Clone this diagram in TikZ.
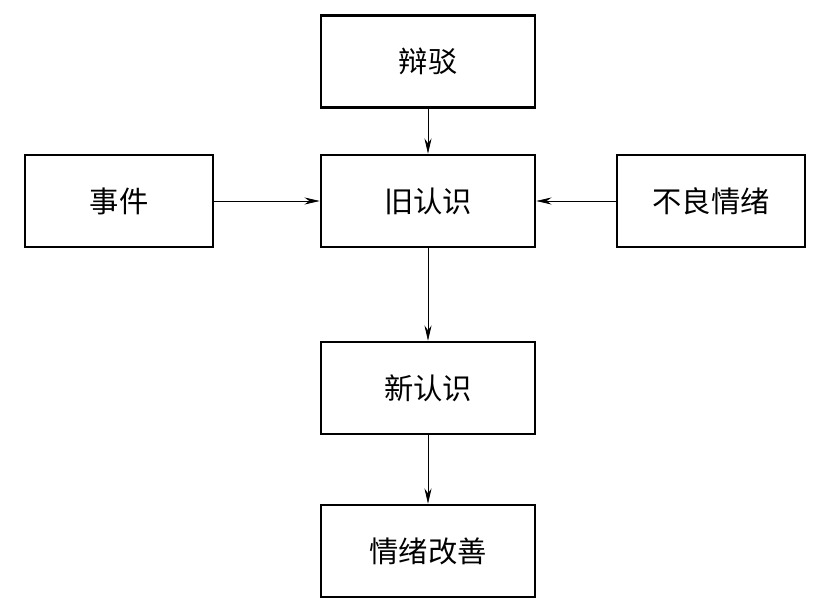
\documentclass[tikz,border=0pt]{standalone}
\usepackage{fontspec}
\setmainfont{Noto Sans CJK SC}
\usetikzlibrary{arrows.meta}

\tikzset{
  stepbox/.style={draw,line width=2.2pt,minimum height=2.76cm,
    inner sep=0pt,font=\fontsize{25}{30}\selectfont},
  midbox/.style={stepbox,minimum width=6.42cm},
  sidebox/.style={stepbox,minimum width=5.64cm},
  flow/.style={line width=0.6pt,-{Stealth[length=13pt,width=6pt]}}
}

\begin{document}
\begin{tikzpicture}[x=0.03cm,y=0.03cm]
  % Page frame, 840 x 609 px.
  \useasboundingbox (0,0) rectangle (840,609);

  % Boxes.
  \node[midbox] (bianbo) at (428,547.5) {辩驳};
  \node[midbox] (jiu) at (428,408) {旧认识};
  \node[sidebox] (shijian) at (119,408) {事件};
  \node[sidebox] (buliang) at (711,408) {不良情绪};
  \node[midbox] (xin) at (428,221) {新认识};
  \node[midbox] (gaishan) at (428,58) {情绪改善};

  % Connectors.
  \draw[flow] (bianbo.south) -- (jiu.north);
  \draw[flow] (shijian.east) -- (jiu.west);
  \draw[flow] (buliang.west) -- (jiu.east);
  \draw[flow] (jiu.south) -- (xin.north);
  \draw[flow] (xin.south) -- (gaishan.north);
\end{tikzpicture}
\end{document}
